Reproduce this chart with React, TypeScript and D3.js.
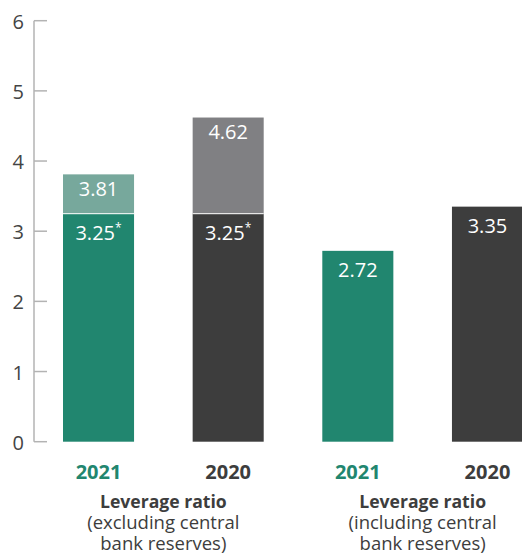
import React from 'react';
import * as d3 from 'd3';

const categories = ['a2021', 'a2020', 'b2021', 'b2020'];
const yearLabels = ['2021', '2020', '2021', '2020'];
const baseValues = [3.25, 3.25, 2.72, 3.35];
const baseLabels = ['3.25', '3.25', '2.72', '3.35'];
const baseStar = [true, true, false, false];
const topValues: (number | null)[] = [3.81, 4.62, null, null];
const topLabels = ['3.81', '4.62', '', ''];
const groupTitles = ['Leverage ratio', 'Leverage ratio'];
const groupSub1 = ['(excluding central', '(including central'];
const groupSub2 = ['bank reserves)', 'bank reserves)'];
const yTicks = [0, 1, 2, 3, 4, 5, 6];

const W = 522;
const H = 557;
const GREEN = '#21866f';
const LIGHT_GREEN = '#77a89c';
const DARK = '#3d3d3d';
const GREY = '#808083';
const FONT = "'Open Sans', sans-serif";

export default function App() {
  const y = d3.scaleLinear().domain([0, 6]).range([441.7, 20.7]);
  const x = d3.scaleBand<string>().domain(categories).range([63, 523]).paddingInner(0.452).paddingOuter(0);
  const bw = x.bandwidth();
  const baseColor = (i: number) => (i % 2 === 0 ? GREEN : DARK);
  const topColor = (i: number) => (i % 2 === 0 ? LIGHT_GREEN : GREY);

  return (
    <svg width={W} height={H} style={{ position: 'absolute', left: 0, top: 0 }} fontFamily={FONT}>
      {/* axis */}
      <line x1={34} x2={34} y1={y(0)} y2={y(6)} stroke="#b3b3b3" strokeWidth={1.5} />
      {yTicks.map((t) => (
        <g key={t}>
          <line x1={34} x2={47} y1={y(t)} y2={y(t)} stroke="#b3b3b3" strokeWidth={1.5} />
          <text x={24} y={y(t) + 8} textAnchor="end" fontSize={20} fill="#444">
            {t}
          </text>
        </g>
      ))}
      {/* bars */}
      {categories.map((c, i) => {
        const x0 = x(c)!;
        const cx = x0 + bw / 2;
        const tv = topValues[i];
        return (
          <g key={c}>
            {tv !== null && (
              <rect x={x0} y={y(tv)} width={bw} height={y(baseValues[i]) - y(tv)} fill={topColor(i)} />
            )}
            <rect x={x0} y={y(baseValues[i])} width={bw} height={y(0) - y(baseValues[i])} fill={baseColor(i)} />
            {tv !== null && (
              <line x1={x0} x2={x0 + bw} y1={y(baseValues[i])} y2={y(baseValues[i])} stroke="#ffffff" strokeWidth={1.2} opacity={0.8} />
            )}
            {tv !== null && (
              <text x={cx} y={y(tv) + 21.5} textAnchor="middle" fontSize={20} fill="#fff" fontWeight={500}>
                {topLabels[i]}
              </text>
            )}
            <text x={cx} y={y(baseValues[i]) + 26.5} textAnchor="middle" fontSize={20} fill="#fff" fontWeight={500}>
              {baseLabels[i]}
              {baseStar[i] && (
                <tspan fontSize={12} dy={-8}>
                  *
                </tspan>
              )}
            </text>
            <text x={cx} y={478.5} textAnchor="middle" fontSize={20} fontWeight={700} fill={i % 2 === 0 ? GREEN : DARK}>
              {yearLabels[i]}
            </text>
          </g>
        );
      })}
      {/* group titles */}
      {groupTitles.map((g, gi) => {
        const cx = (x(categories[gi * 2])! + x(categories[gi * 2 + 1])! + bw) / 2;
        return (
          <g key={gi} fill="#3d3d3d" textAnchor="middle">
            <text x={cx} y={507.5} fontSize={17.6} fontWeight={700}>{g}</text>
            <text x={cx} y={529.3} fontSize={18.5}>{groupSub1[gi]}</text>
            <text x={cx} y={550} fontSize={18.5}>{groupSub2[gi]}</text>
          </g>
        );
      })}
    </svg>
  );
}
